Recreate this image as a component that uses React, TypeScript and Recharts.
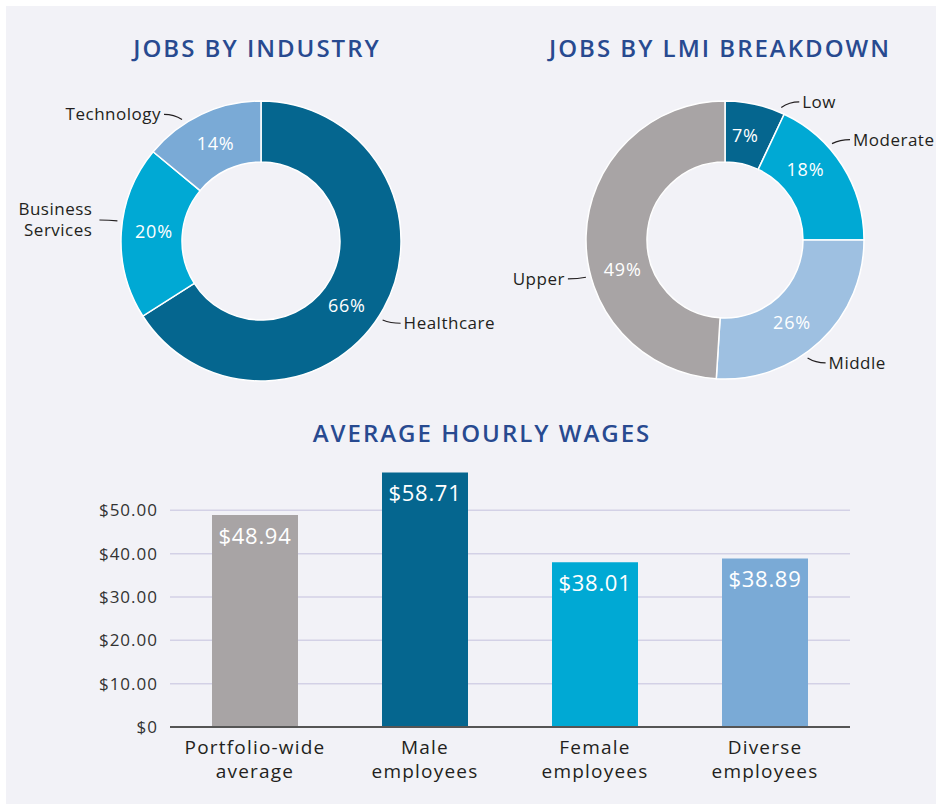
import React from 'react';
import { PieChart, Pie, Cell, BarChart, Bar, XAxis, YAxis, CartesianGrid, LabelList } from 'recharts';

const FONT = '"Open Sans", sans-serif';
const TITLE_BLUE = '#284a90';
const TEXT_DARK = '#231f20';

const industryNames = ['Healthcare', 'Business\nServices', 'Technology'];
const industryShares = [66, 20, 14];
const industryColors = ['#05668f', '#00a9d4', '#7aaad6'];

const lmiNames = ['Low', 'Moderate', 'Middle', 'Upper'];
const lmiShares = [7, 18, 26, 49];
const lmiColors = ['#05668f', '#00a9d4', '#9ec0e1', '#a8a4a5'];

const wageCategories = ['Portfolio-wide\naverage', 'Male\nemployees', 'Female\nemployees', 'Diverse\nemployees'];
const wageValues = [48.94, 58.71, 38.01, 38.89];
const wageColors = ['#a8a4a5', '#05668f', '#00a9d4', '#7aaad6'];
const wageTicks = [0, 10, 20, 30, 40, 50];
const wageGridValues = [10, 20, 30, 40, 50];

// callout / percent placement, degrees clockwise from 12 o'clock
const industryCalloutAngles = [123, 278, 327];
const industryPctAngles = [127, 275, 335];
const lmiCalloutAngles = [23, 48, 145, 255];
const lmiPctAngles = [11, 49, 141, 254];

const industryData = industryNames.map((name, i) => ({ name, value: industryShares[i] }));
const lmiData = lmiNames.map((name, i) => ({ name, value: lmiShares[i] }));
const wageData = wageCategories.map((name, i) => ({ name, value: wageValues[i] }));

const rad = (deg: number) => (deg * Math.PI) / 180;

const makeDonutLabel = (names: string[], calloutAngles: number[], pctAngles: number[]) =>
  (props: any) => {
    const { cx, cy, innerRadius, outerRadius, index, value } = props;
    const pr = (innerRadius + outerRadius) / 2 - 2;
    const pa = rad(pctAngles[index]);
    const px = cx + pr * Math.sin(pa);
    const py = cy - pr * Math.cos(pa);

    const ca = rad(calloutAngles[index]);
    const R = outerRadius + 5;
    const x0 = cx + R * Math.sin(ca);
    const y0 = cy - R * Math.cos(ca);
    const dir = Math.sin(ca) >= 0 ? 1 : -1;
    const ty = y0 - Math.cos(ca) * 6;
    const x1 = x0 + dir * 18;
    const lines = names[index].split('\n');
    // two-line callouts sit a little further from the leader
    const tx = x1 + dir * (lines.length > 1 ? 7 : 3);

    return (
      <g>
        <text x={px} y={py} dy="0.35em" fill="#fff" fontSize={18} letterSpacing={0.8} textAnchor="middle" fontFamily={FONT}>
          {value}%
        </text>
        <path d={`M${x0},${y0} Q${x0 + dir * 8},${ty} ${x1},${ty}`} stroke={TEXT_DARK} strokeWidth={1.2} fill="none" />
        {lines.map((l, i) => (
          <text
            key={i}
            x={tx}
            y={ty - (lines.length - 1) * 10.5 + i * 21}
            dy="0.35em"
            textAnchor={dir > 0 ? 'start' : 'end'}
            fontSize={17}
            letterSpacing={0.5}
            fill={TEXT_DARK}
            fontFamily={FONT}
          >
            {l}
          </text>
        ))}
      </g>
    );
  };

const WageTick = (props: any) => {
  const { x, payload } = props;
  const lines = String(payload.value).split('\n');
  return (
    <g>
      {lines.map((l, i) => (
        <text
          key={i}
          x={x}
          y={727 - 440 + 20 + i * 24}
          dy="0.35em"
          textAnchor="middle"
          fontSize={19}
          letterSpacing={1.2}
          fill={TEXT_DARK}
          fontFamily={FONT}
        >
          {l}
        </text>
      ))}
    </g>
  );
};

const renderWageLabel = (props: any) => {
  const { x, y, width, value } = props;
  return (
    <text x={x + width / 2} y={y + 21} dy="0.35em" textAnchor="middle" fill="#fff" fontSize={22} letterSpacing={0.7} fontFamily={FONT}>
      ${Number(value).toFixed(2)}
    </text>
  );
};

const titleStyle = (left: number, top: number, width: number): React.CSSProperties => ({
  position: 'absolute',
  left,
  top,
  width,
  textAlign: 'center',
  fontFamily: FONT,
  fontWeight: 600,
  fontSize: 24,
  color: TITLE_BLUE,
  letterSpacing: 2,
  lineHeight: '30px',
});

const App: React.FC = () => {
  return (
    <div style={{ position: 'absolute', left: 0, top: 0, width: 936, height: 804, background: '#fff', overflow: 'hidden' }}>
      <div style={{ position: 'absolute', left: 6, top: 6, width: 930, height: 798, background: '#f2f2f7' }} />

      <div style={titleStyle(57, 33, 400)}>JOBS BY INDUSTRY</div>
      <div style={titleStyle(520, 33, 400)}>JOBS BY LMI BREAKDOWN</div>
      <div style={titleStyle(282, 418, 400)}>AVERAGE HOURLY WAGES</div>

      <div style={{ position: 'absolute', left: 0, top: 0 }}>
        <PieChart width={936} height={400} margin={{ top: 0, right: 0, bottom: 0, left: 0 }}>
          <Pie
            data={industryData}
            dataKey="value"
            cx={261}
            cy={241}
            innerRadius={79}
            outerRadius={140}
            startAngle={90}
            endAngle={-270}
            stroke="#fff"
            strokeWidth={1.5}
            labelLine={false}
            label={makeDonutLabel(industryNames, industryCalloutAngles, industryPctAngles)}
            isAnimationActive={false}
          >
            {industryData.map((d, i) => (
              <Cell key={d.name} fill={industryColors[i]} />
            ))}
          </Pie>
          <Pie
            data={lmiData}
            dataKey="value"
            cx={725}
            cy={240}
            innerRadius={78}
            outerRadius={139}
            startAngle={90}
            endAngle={-270}
            stroke="#fff"
            strokeWidth={1.5}
            labelLine={false}
            label={makeDonutLabel(lmiNames, lmiCalloutAngles, lmiPctAngles)}
            isAnimationActive={false}
          >
            {lmiData.map((d, i) => (
              <Cell key={d.name} fill={lmiColors[i]} />
            ))}
          </Pie>
        </PieChart>
      </div>

      <div style={{ position: 'absolute', left: 0, top: 440 }}>
        <BarChart width={936} height={364} data={wageData} margin={{ top: 27, right: 86, bottom: 0, left: 0 }}>
          <CartesianGrid vertical={false} horizontalValues={wageGridValues} stroke="#d3d1e6" strokeWidth={1.5} />
          <XAxis
            dataKey="name"
            interval={0}
            tickLine={false}
            axisLine={{ stroke: '#555', strokeWidth: 2 }}
            height={77}
            tick={<WageTick />}
          />
          <YAxis
            domain={[0, 60]}
            ticks={wageTicks}
            width={170}
            axisLine={false}
            tickLine={false}
            tickMargin={6}
            tick={{ fontSize: 17, fill: '#333', fontFamily: FONT, letterSpacing: 1 }}
            tickFormatter={(v: number) => (v === 0 ? '$0' : `$${v.toFixed(2)}`)}
          />
          <Bar dataKey="value" barSize={86} isAnimationActive={false}>
            {wageData.map((d, i) => (
              <Cell key={d.name} fill={wageColors[i]} />
            ))}
            <LabelList dataKey="value" content={renderWageLabel} />
          </Bar>
        </BarChart>
      </div>
    </div>
  );
};

export default App;
